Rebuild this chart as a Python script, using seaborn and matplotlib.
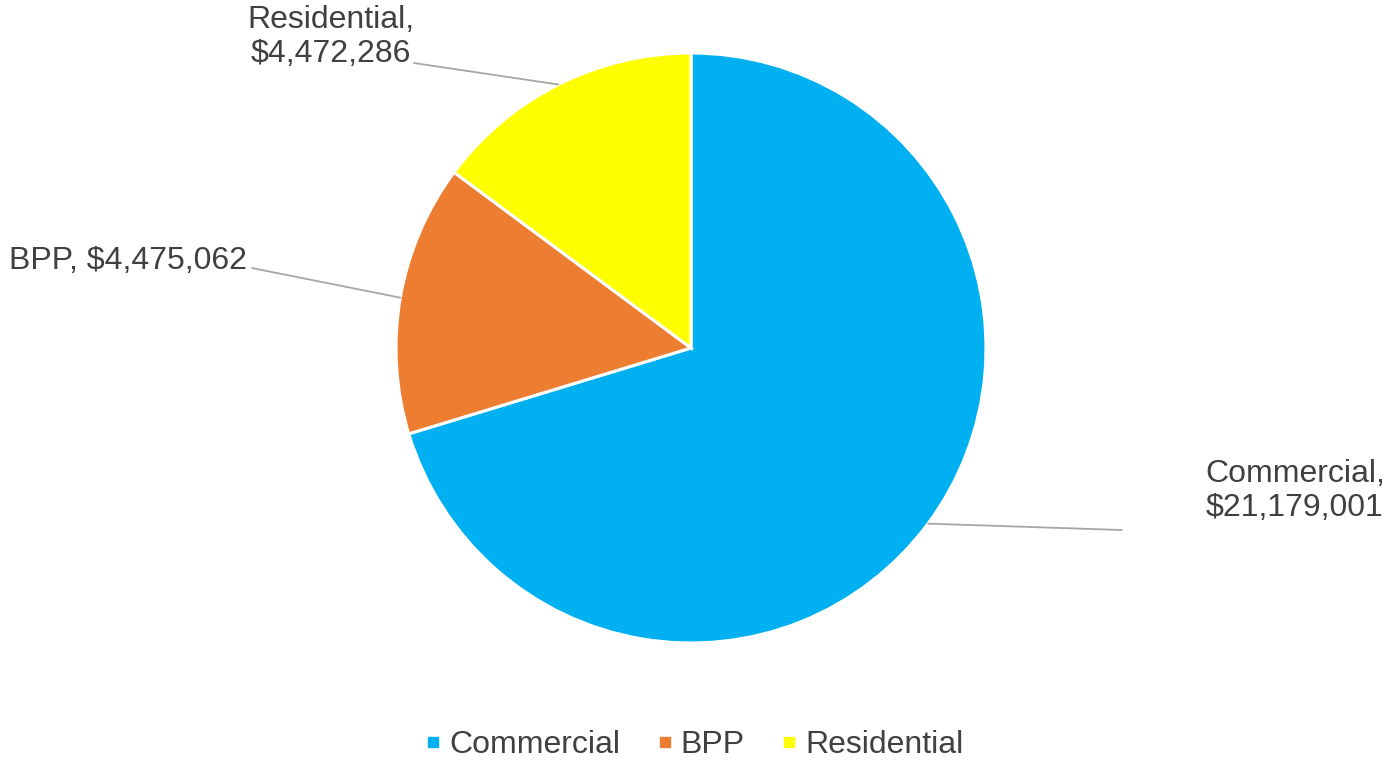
import matplotlib
matplotlib.use("Agg")
import matplotlib.pyplot as plt
from matplotlib.lines import Line2D
import numpy as np
import seaborn as sns

# Revenue by property class
categories = ["Commercial", "BPP", "Residential"]
values = [21179001, 4475062, 4472286]
colors = ["#00B0F0", "#ED7D31", "#FFFF00"]

sns.set_theme(style="white")
plt.rcParams["font.family"] = ["Liberation Sans", "DejaVu Sans"]

W, H, DPI = 1387, 762, 100
fig = plt.figure(figsize=(W / DPI, H / DPI), dpi=DPI)
fig.patch.set_facecolor("white")

# Full-figure axes where one data unit equals the pie radius in pixels
R_PX = 295.0
CX, CY = 691.0, 348.0
ax = fig.add_axes([0, 0, 1, 1])

palette = sns.color_palette(colors)
wedges, _ = ax.pie(
    values,
    colors=palette,
    startangle=90,
    counterclock=False,
    radius=1.0,
    center=(0, 0),
    wedgeprops=dict(edgecolor="white", linewidth=2.2),
    frame=True,
)
ax.set_xlim(-CX / R_PX, (W - CX) / R_PX)
ax.set_ylim((CY - H) / R_PX, CY / R_PX)
ax.set_aspect("auto")
ax.axis("off")

text_color = "#404040"
line_color = "#A6A6A6"
fs = 23.0

# label text anchor, leader end point, alignment
label_layout = {
    "Commercial": dict(xy=(1.743, -0.485), end=(1.461, -0.617), ha="left", two_line=True),
    "BPP": dict(xy=(-1.505, 0.295), end=(-1.488, 0.271), ha="right", two_line=False),
    "Residential": dict(xy=(-1.22, 1.054), end=(-0.939, 0.966), ha="center", two_line=True),
}

for w, cat, val in zip(wedges, categories, values):
    mid = np.deg2rad((w.theta1 + w.theta2) / 2.0)
    start = (np.cos(mid), np.sin(mid))
    lay = label_layout[cat]
    ex, ey = lay["end"]
    ax.plot([start[0], ex], [start[1], ey], color=line_color, linewidth=1.3,
            clip_on=False, zorder=1)
    sep = "\n" if lay["two_line"] else " "
    ax.text(lay["xy"][0], lay["xy"][1], f"{cat},{sep}${val:,}",
            ha=lay["ha"], va="center", fontsize=fs, color=text_color,
            linespacing=1.2, multialignment=lay["ha"])

handles = [Line2D([], [], marker="s", linestyle="", color=c, markersize=7.5)
           for c in palette]
leg = fig.legend(
    handles, categories, loc="center", bbox_to_anchor=(0.5, (H - 745) / H),
    ncol=3, frameon=False, fontsize=fs, handlelength=0.6, handletextpad=0.2,
    columnspacing=1.1, labelcolor=text_color,
)

fig.savefig("out.png", dpi=DPI, facecolor="white")
